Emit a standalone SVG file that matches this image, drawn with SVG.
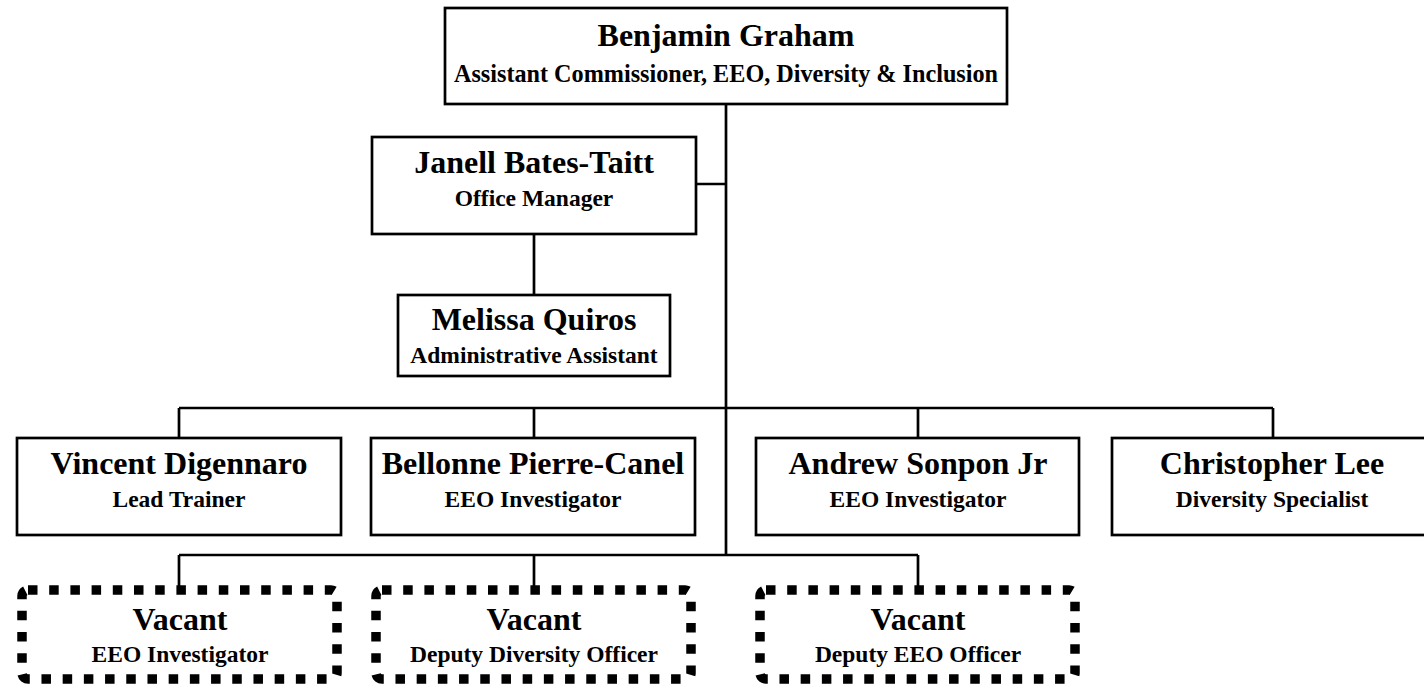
<svg xmlns="http://www.w3.org/2000/svg" width="1424" height="686" viewBox="0 0 1424 686">
<style>
.box{fill:#fff;stroke:#000;stroke-width:2.7}
.vac{fill:#fff;stroke:#000;stroke-width:9.5;stroke-dasharray:9.5 11.7}
.ln{fill:none;stroke:#000;stroke-width:2.7}
text{font-family:"Liberation Serif","Times New Roman",serif;font-weight:bold;text-anchor:middle;fill:#000}
.t{font-size:32px}
.s{font-size:23.5px}
</style>
<rect width="1424" height="686" fill="#fff"/>
<g id="connectors">
<path class="ln" d="M726 104V555M696 184H726M534 234V295M179 408H1273M179 408V438M534 408V438M918 408V438M1273 408V438M179 555H918M179 555V586M534 555V586M918 555V586"/>
</g>
<g id="benjamin-graham">
<rect class="box" x="445" y="8" width="562" height="96"/>
<text class="t" x="726" y="46">Benjamin Graham</text>
<text class="s" x="726" y="82" style="font-size:24.2px">Assistant Commissioner, EEO, Diversity &amp; Inclusion</text>
</g>
<g id="janell-bates-taitt">
<rect class="box" x="372" y="137" width="324" height="97"/>
<text class="t" x="534" y="173">Janell Bates-Taitt</text>
<text class="s" x="534" y="206">Office Manager</text>
</g>
<g id="melissa-quiros">
<rect class="box" x="398" y="295" width="272" height="81"/>
<text class="t" x="534" y="330">Melissa Quiros</text>
<text class="s" x="534" y="363">Administrative Assistant</text>
</g>
<g id="vincent-digennaro">
<rect class="box" x="17" y="438" width="324" height="97"/>
<text class="t" x="179" y="474">Vincent Digennaro</text>
<text class="s" x="179" y="507">Lead Trainer</text>
</g>
<g id="bellonne-pierre-canel">
<rect class="box" x="371" y="438" width="324" height="97"/>
<text class="t" x="533" y="474">Bellonne Pierre-Canel</text>
<text class="s" x="533" y="507">EEO Investigator</text>
</g>
<g id="andrew-sonpon-jr">
<rect class="box" x="756" y="438" width="323" height="97"/>
<text class="t" x="918" y="474">Andrew Sonpon Jr</text>
<text class="s" x="918" y="507">EEO Investigator</text>
</g>
<g id="christopher-lee">
<rect class="box" x="1112" y="438" width="322" height="97"/>
<text class="t" x="1272" y="474">Christopher Lee</text>
<text class="s" x="1272" y="507">Diversity Specialist</text>
</g>
<g id="vacant-eeo-investigator">
<rect class="vac" x="22" y="590" width="315" height="89" rx="6"/>
<text class="t" x="180" y="630">Vacant</text>
<text class="s" x="180" y="662">EEO Investigator</text>
</g>
<g id="vacant-deputy-diversity-officer">
<rect class="vac" x="376" y="590" width="315" height="89" rx="6"/>
<text class="t" x="534" y="630">Vacant</text>
<text class="s" x="534" y="662">Deputy Diversity Officer</text>
</g>
<g id="vacant-deputy-eeo-officer">
<rect class="vac" x="760" y="590" width="315" height="89" rx="6"/>
<text class="t" x="918" y="630">Vacant</text>
<text class="s" x="918" y="662">Deputy EEO Officer</text>
</g>
</svg>
